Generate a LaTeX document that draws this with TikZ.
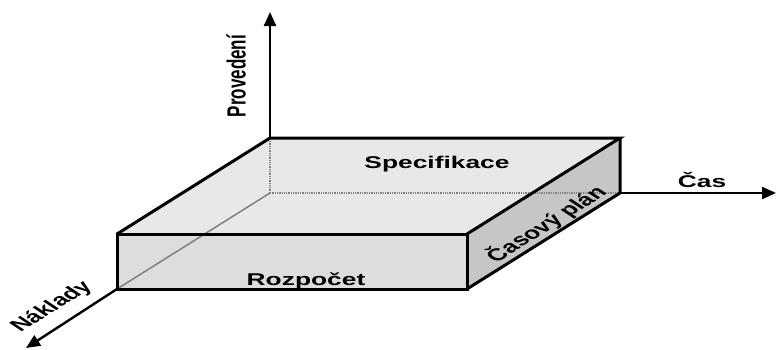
\documentclass[tikz,border=0pt]{standalone}
\usepackage{fontspec}
\setmainfont{Liberation Sans}
\usetikzlibrary{arrows.meta}

\begin{document}
\begin{tikzpicture}[x=1pt,y=-1pt,
                    edge/.style={line width=3pt,line join=miter},
                    hidden/.style={gray,line width=1.3pt,densely dotted},
                    axis/.style={line width=2.4pt,-{Triangle[length=14pt,width=12pt]}},
                    word/.style={font=\bfseries\fontsize{17}{18}\selectfont,inner sep=0pt,xscale=1.55}]
      \useasboundingbox (0,0) rectangle (777,349);

      % corners of the box
      \coordinate (b0) at (270,193);
      \coordinate (b1) at (620,193);
      \coordinate (t0) at (270,138);
      \coordinate (t1) at (620,138);
      \coordinate (f0) at (117,289);
      \coordinate (f1) at (467,289);
      \coordinate (f2) at (117,234);
      \coordinate (f3) at (467,234);

      % axis ends
      \coordinate (up) at (270,12);
      \coordinate (right) at (776,193);
      \coordinate (down) at (26,348);

      \fill[gray!18] (t0) -- (t1) -- (f3) -- (f2) -- cycle;
      \fill[gray!27] (f2) -- (f3) -- (f1) -- (f0) -- cycle;
      \fill[gray!45] (f3) -- (t1) -- (b1) -- (f1) -- cycle;

      \draw[hidden] (b0) -- (t0);
      \draw[hidden] (b0) -- (b1);
      \draw[gray,line width=1.5pt] (b0) -- (f0);

      \draw[edge] (f2) -- (t0) -- (t1) -- (f3);
      \draw[edge] (f0) rectangle (f3);
      \draw[edge] (t1) -- (b1) -- (f1);

      \draw[axis] (t0) -- (up);
      \draw[axis] (b1) -- (right);
      \draw[axis] (f0) -- (down);

      \node[word,rotate=90] (provedeni) at (236,76) {Provedení};
      \node[word] (spec) at (437,164) {Specifikace};
      \node[word] (rozpocet) at (306,281) {Rozpočet};
      \node[word,rotate=44.2] (plan) at (546,224) {Časový plán};
      \node[word] (cas) at (702,180) {Čas};
      \node[word,rotate=44.2] (naklady) at (52,307) {Náklady};
    \end{tikzpicture}
\end{document}
